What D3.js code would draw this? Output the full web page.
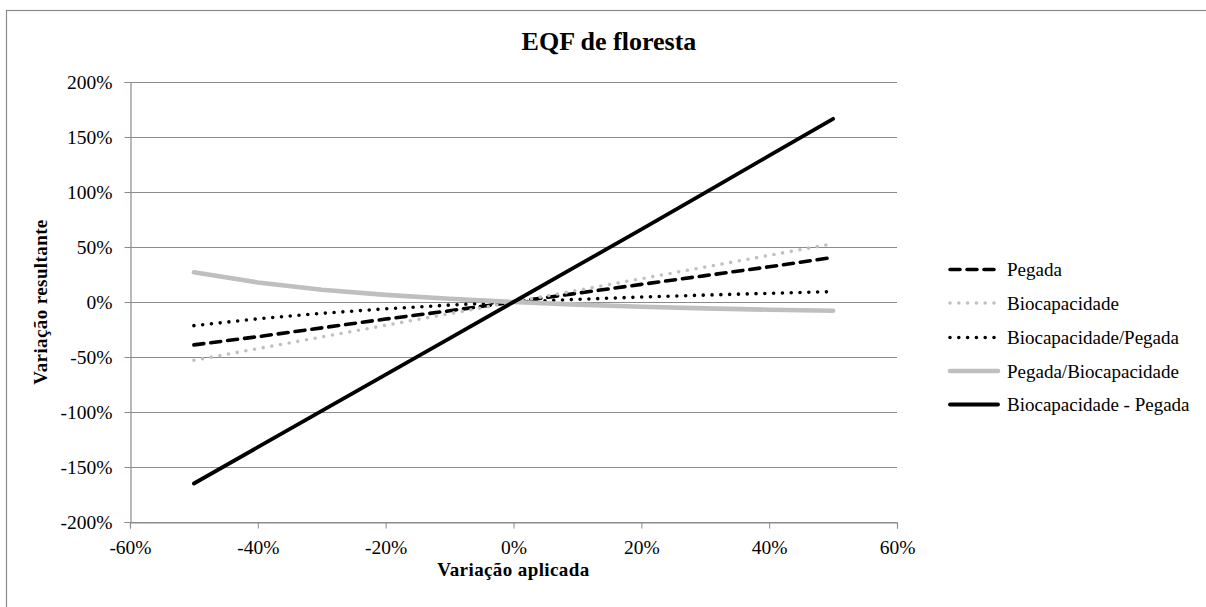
<!DOCTYPE html>
<html>
<head>
<meta charset="utf-8">
<script src="https://cdn.jsdelivr.net/npm/d3@7"></script>
<style>
  html, body { margin: 0; padding: 0; background: #fff; }
  svg { display: block; }
  text { font-family: "Liberation Serif", "Times New Roman", serif; fill: #000; }
</style>
</head>
<body>
<svg id="chart" width="1206" height="607"></svg>
<script>
// Applied variation (x) and resulting variation (y) for each indicator, in %
const applied = [-50, -40, -30, -20, -10, 0, 10, 20, 30, 40, 50];
const pegada = [-39, -31.5, -23.5, -15.5, -8, 0, 8, 16, 24, 32, 40.5];
const biocapacidade = [-53, -42.4, -31.8, -21.2, -10.6, 0, 10.6, 21.2, 31.8, 42.4, 53];
const bioPorPegada = [-21.5, -15.3, -10.3, -6.2, -2.8, 0, 2.4, 4.5, 6.3, 7.9, 9.4];
const pegadaPorBio = [27, 17.8, 11.2, 6.5, 2.9, 0, -2.4, -4.3, -5.8, -7, -8];
const bioMenosPegada = [-165, -132, -99, -66, -33, 0, 33, 66, 99.5, 133, 166.5];

const xTicks = [-60, -40, -20, 0, 20, 40, 60];
const yTicks = [-200, -150, -100, -50, 0, 50, 100, 150, 200];

const seriesNames = ["Pegada", "Biocapacidade", "Biocapacidade/Pegada", "Pegada/Biocapacidade", "Biocapacidade - Pegada"];
const seriesValues = [pegada, biocapacidade, bioPorPegada, pegadaPorBio, bioMenosPegada];

const titleText = "EQF de floresta";
const xTitle = "Variação aplicada";
const yTitle = "Variação resultante";

// Line styles per series
const styles = [
  { color: "#000000", width: 3.6, dash: "10,7", cap: "round" },
  { color: "#c0c0c0", width: 3.6, dash: "0,8.8", cap: "round" },
  { color: "#000000", width: 3.6, dash: "0,8.8", cap: "round" },
  { color: "#bfbfbf", width: 4.6, dash: null, cap: "round" },
  { color: "#000000", width: 3.8, dash: null, cap: "round" }
];

const svg = d3.select("#chart");
const gridColor = "#8c8c8c";

// Chart-area border
svg.append("rect")
  .attr("x", 6.5).attr("y", 10.5)
  .attr("width", 1250).attr("height", 650)
  .attr("fill", "none").attr("stroke", "#8c8c8c").attr("stroke-width", 1.2);

const plot = { left: 130, right: 897, top: 82, bottom: 522 };

const x = d3.scaleLinear().domain([-60, 60]).range([plot.left, plot.right]);
const y = d3.scaleLinear().domain([-200, 200]).range([plot.bottom, plot.top]);
const pct = d => d + "%";

// Horizontal gridlines
svg.append("g")
  .selectAll("line")
  .data(yTicks)
  .join("line")
  .attr("x1", plot.left).attr("x2", plot.right)
  .attr("y1", d => Math.round(y(d)) + 0.5).attr("y2", d => Math.round(y(d)) + 0.5)
  .attr("stroke", gridColor).attr("stroke-width", 1);

// Y axis
const yAxis = svg.append("g")
  .attr("transform", `translate(${plot.left + 0.5},0)`)
  .call(d3.axisLeft(y).tickValues(yTicks).tickFormat(pct).tickSize(6).tickPadding(12));
yAxis.select(".domain").attr("stroke", gridColor).attr("stroke-width", 1.2);
yAxis.selectAll(".tick line").attr("stroke", gridColor);
yAxis.selectAll("text").attr("font-size", 19.5).attr("font-family", "Liberation Serif").attr("fill", "#000");

// X axis
const xAxis = svg.append("g")
  .attr("transform", `translate(0,${plot.bottom + 0.5})`)
  .call(d3.axisBottom(x).tickValues(xTicks).tickFormat(pct).tickSize(6).tickPadding(12));
xAxis.select(".domain").attr("stroke", gridColor).attr("stroke-width", 1.2);
xAxis.selectAll(".tick line").attr("stroke", gridColor);
xAxis.selectAll("text").attr("font-size", 19.5).attr("font-family", "Liberation Serif").attr("fill", "#000");

// Series lines
const line = d3.line().x((d, i) => x(applied[i])).y(d => y(d));
seriesValues.forEach((vals, i) => {
  const s = styles[i];
  svg.append("path")
    .datum(vals)
    .attr("d", line)
    .attr("fill", "none")
    .attr("stroke", s.color)
    .attr("stroke-width", s.width)
    .attr("stroke-linecap", s.cap)
    .attr("stroke-linejoin", "round")
    .attr("stroke-dasharray", s.dash);
});

// Title
svg.append("text")
  .attr("x", 609).attr("y", 50)
  .attr("text-anchor", "middle")
  .attr("font-size", 26).attr("font-weight", "bold")
  .text(titleText);

// Axis titles
svg.append("text")
  .attr("x", (plot.left + plot.right) / 2).attr("y", 576)
  .attr("text-anchor", "middle")
  .attr("font-size", 19).attr("font-weight", "bold")
  .attr("letter-spacing", 0.4)
  .text(xTitle);

svg.append("text")
  .attr("transform", `translate(47,${(plot.top + plot.bottom) / 2}) rotate(-90)`)
  .attr("text-anchor", "middle")
  .attr("font-size", 19).attr("font-weight", "bold")
  .attr("letter-spacing", 0.4)
  .text(yTitle);

// Legend
const legendRows = [269.5, 303, 337.5, 371, 404.5];
const legend = svg.append("g");
seriesNames.forEach((name, i) => {
  const s = styles[i];
  const ly = legendRows[i];
  legend.append("line")
    .attr("x1", 950).attr("x2", 998)
    .attr("y1", ly).attr("y2", ly)
    .attr("stroke", s.color)
    .attr("stroke-width", s.width)
    .attr("stroke-linecap", s.cap)
    .attr("stroke-dasharray", s.dash);
  legend.append("text")
    .attr("x", 1007).attr("y", ly)
    .attr("dy", "0.35em")
    .attr("font-size", 19)
    .text(name);
});
</script>
</body>
</html>
